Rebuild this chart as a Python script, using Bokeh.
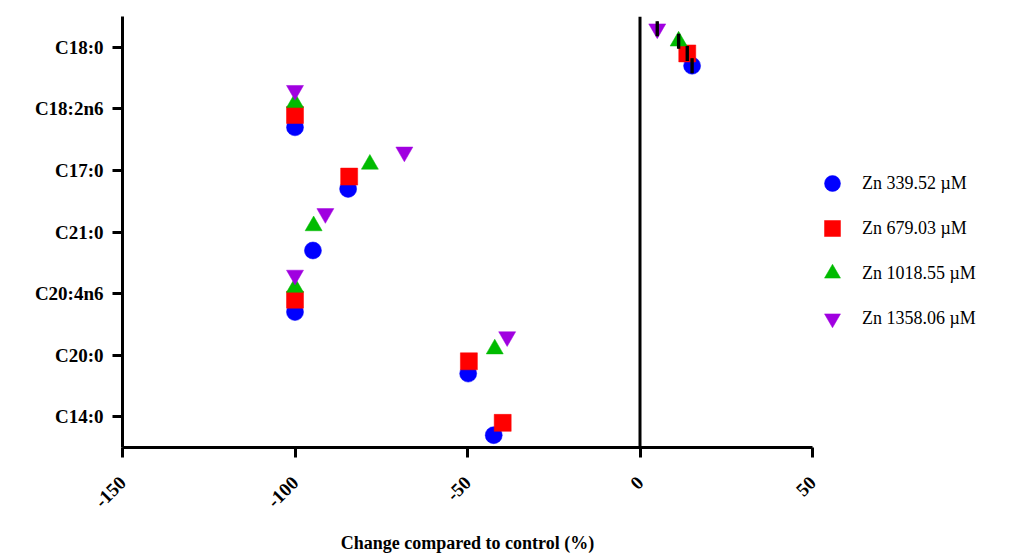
import math
from bokeh.plotting import figure
from bokeh.models import (ColumnDataSource, FactorRange, Range1d, Span, Legend, LegendItem,
                          Whisker, TeeHead, FixedTicker)
from bokeh.transform import dodge
from bokeh.embed import file_html
from bokeh.resources import INLINE

NaN = float("nan")

categories = ["C14:0", "C20:0", "C20:4n6", "C21:0", "C17:0", "C18:2n6", "C18:0"]
series_names = ["Zn 339.52 \u00b5M", "Zn 679.03 \u00b5M", "Zn 1018.55 \u00b5M", "Zn 1358.06 \u00b5M"]
zn_339 = [-42.4, -49.8, -100.0, -94.8, -84.6, -100.0, 15.1]
zn_679 = [-39.8, -49.6, -100.0, NaN, -84.3, -100.0, 13.7]
zn_1018 = [NaN, -42.1, -100.0, -94.6, -78.3, -100.0, 11.2]
zn_1358 = [NaN, -38.5, -100.0, -91.2, -68.3, -100.0, 5.0]
err_339 = [NaN, NaN, NaN, NaN, NaN, NaN, 0.2]
err_679 = [NaN, NaN, NaN, NaN, NaN, NaN, 0.2]
err_1018 = [NaN, NaN, NaN, NaN, NaN, NaN, 0.2]
err_1358 = [NaN, NaN, NaN, NaN, NaN, NaN, 0.2]
x_ticks = [-150, -100, -50, 0, 50]
x_tick_labels = ["-150", "-100", "-50", "0", "50"]

series = [zn_339, zn_679, zn_1018, zn_1358]
errors = [err_339, err_679, err_1018, err_1358]
markers = ["circle", "square", "triangle", "inverted_triangle"]
colors = ["#0000FF", "#FF0000", "#00BB00", "#A000E0"]
offsets = [-0.3, -0.1, 0.1, 0.3]

p = figure(frame_width=690, frame_height=431, output_backend="svg", toolbar_location=None,
           x_range=Range1d(-150, 50), y_range=FactorRange(factors=categories, range_padding=0),
           min_border_left=122, min_border_right=223, min_border_top=16, min_border_bottom=107)
p.outline_line_color = None
p.xgrid.visible = False
p.ygrid.visible = False
p.background_fill_color = "white"
p.border_fill_color = "white"

font = "Liberation Serif"
for ax in (p.xaxis[0], p.yaxis[0]):
    ax.axis_line_width = 3
    ax.axis_line_color = "black"
    ax.major_tick_line_width = 3
    ax.major_tick_line_color = "black"
    ax.major_tick_out = 10
    ax.major_tick_in = 0
    ax.minor_tick_line_color = None
    ax.major_label_text_font = font
    ax.major_label_text_font_style = "bold"
    ax.major_label_text_font_size = "19px"
    ax.major_label_text_color = "black"

p.xaxis.ticker = FixedTicker(ticks=x_ticks)
p.xaxis.major_label_overrides = {t: s for t, s in zip(x_ticks, x_tick_labels)}
p.xaxis.major_label_orientation = math.pi / 4
p.xaxis.major_label_standoff = 22
p.xaxis.axis_label = "Change compared to control (%)"
p.xaxis.axis_label_text_font = font
p.xaxis.axis_label_text_font_style = "bold"
p.xaxis.axis_label_text_font_size = "18px"
p.xaxis.axis_label_text_color = "black"
p.xaxis.axis_label_standoff = 17
p.yaxis.major_label_standoff = 9

p.add_layout(Span(location=0, dimension="height", line_color="black", line_width=3))

items = []
for vals, errs, mk, col, off, name in zip(series, errors, markers, colors, offsets, series_names):
    src = ColumnDataSource(dict(cat=categories, val=vals))
    r = p.scatter(x="val", y=dodge("cat", off, range=p.y_range), source=src, marker=mk,
                  size=17, fill_color=col, line_color=col, line_width=0.5)
    items.append(LegendItem(label=name, renderers=[r]))
    wc = [c for c, e in zip(categories, errs) if not math.isnan(e)]
    wv = [v for v, e in zip(vals, errs) if not math.isnan(e)]
    we = [e for e in errs if not math.isnan(e)]
    wsrc = ColumnDataSource(dict(cat=wc, lo=[v - e for v, e in zip(wv, we)],
                                 hi=[v + e for v, e in zip(wv, we)]))
    w = Whisker(source=wsrc, base=dodge("cat", off, range=p.y_range), lower="lo", upper="hi",
                dimension="width", line_color="black", line_width=2, level="overlay",
                lower_head=TeeHead(size=15, line_width=2, line_color="black"),
                upper_head=TeeHead(size=15, line_width=2, line_color="black"))
    p.add_layout(w)

legend = Legend(items=items, location=(0, 109), glyph_width=40, glyph_height=40,
                spacing=5, padding=0, margin=0, label_standoff=10,
                label_text_font=font, label_text_font_size="18px", label_text_color="black",
                border_line_color=None, background_fill_alpha=0)
p.add_layout(legend, "right")

open("out.html", "w").write(file_html(p, INLINE))
